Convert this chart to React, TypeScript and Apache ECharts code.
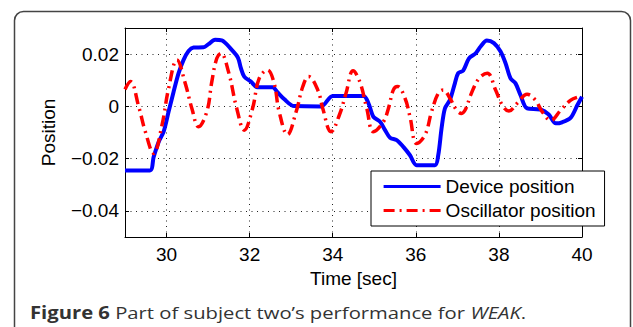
import React, { useEffect, useRef } from "react";
import * as echarts from "echarts";

const xTicks = [30, 32, 34, 36, 38, 40];
const yTicks = [-0.04, -0.02, 0, 0.02];

const deviceTime = [29.0, 29.6, 29.69, 29.81, 29.93, 30.05, 30.17, 30.29, 30.41, 30.53, 30.65, 30.89, 31.01, 31.17, 31.33, 31.57, 31.72, 31.79, 31.87, 32.03, 32.19, 32.55, 32.67, 32.83, 33.07, 33.72, 34.0, 34.74, 34.86, 34.98, 35.14, 35.26, 35.38, 35.54, 35.7, 35.86, 36.02, 36.46, 36.54, 36.62, 36.7, 36.82, 36.94, 37.02, 37.14, 37.28, 37.44, 37.56, 37.71, 37.88, 38.04, 38.16, 38.28, 38.4, 38.52, 38.68, 39.0, 39.2, 39.37, 39.52, 39.73, 39.89, 40.0];
const deviceValue = [-0.0245, -0.0245, -0.0193, -0.0136, -0.0097, -0.002, 0.0056, 0.0127, 0.0178, 0.0212, 0.0225, 0.0226, 0.0238, 0.0255, 0.0253, 0.0216, 0.0186, 0.0146, 0.0114, 0.0095, 0.0073, 0.0073, 0.0054, 0.0028, 0.0001, 0.0, 0.004, 0.004, 0.0012, -0.004, -0.0059, -0.0091, -0.012, -0.0129, -0.0155, -0.0187, -0.0225, -0.0225, -0.0187, -0.0084, -0.0008, 0.0024, 0.0088, 0.0127, 0.0137, 0.0184, 0.0203, 0.0229, 0.0252, 0.0242, 0.021, 0.0165, 0.0107, 0.0088, 0.0043, -0.0008, -0.0012, -0.0031, -0.0065, -0.0061, -0.0043, 0.0005, 0.0037];

const oscTime = [29.0, 29.13, 29.33, 29.49, 29.69, 29.89, 30.05, 30.25, 30.45, 30.61, 30.77, 30.97, 31.09, 31.21, 31.31, 31.49, 31.69, 31.87, 32.07, 32.23, 32.43, 32.59, 32.71, 32.91, 33.12, 33.28, 33.42, 33.64, 33.76, 33.96, 34.16, 34.32, 34.49, 34.65, 34.82, 34.98, 35.22, 35.34, 35.46, 35.56, 35.74, 35.86, 36.02, 36.22, 36.38, 36.54, 36.66, 36.82, 36.98, 37.1, 37.2, 37.32, 37.52, 37.72, 37.92, 38.08, 38.24, 38.44, 38.68, 38.88, 39.04, 39.25, 39.49, 39.73, 39.93, 40.0];
const oscValue = [0.0065, 0.0095, -0.0001, -0.0097, -0.018, -0.0072, 0.0069, 0.0178, 0.0088, -0.0008, -0.0078, -0.002, 0.0095, 0.0184, 0.0203, 0.0133, -0.0008, -0.0091, -0.0008, 0.0107, 0.0139, 0.0088, -0.002, -0.0108, -0.002, 0.0076, 0.0114, 0.0063, -0.0008, -0.0097, -0.0033, 0.005, 0.0136, 0.0095, -0.0008, -0.0097, -0.0059, -0.0008, 0.0063, 0.0076, 0.0031, -0.004, -0.0142, -0.011, -0.002, 0.005, 0.0063, 0.0031, -0.0014, -0.0027, -0.001, 0.0043, 0.0107, 0.0127, 0.0063, 0.0005, -0.0018, 0.0012, 0.0046, 0.0024, -0.002, -0.0053, -0.0014, 0.0024, 0.0037, 0.004];

const FONT = "'Liberation Sans', Arial, sans-serif";
const CAP_FONT = "'Open Sans', 'Noto Sans', sans-serif";

function fmtY(v: number): string {
  const r = Math.round(v * 100) / 100;
  if (r === 0) return "0";
  const s = Math.abs(r).toFixed(2);
  return r < 0 ? "\u2212" + s : s;
}

export default function App() {
  const ref = useRef<HTMLDivElement>(null);
  useEffect(() => {
    if (!ref.current) return;
    const chart = echarts.init(ref.current, null, { renderer: "svg" });
    const grid = { left: 125, right: 51, top: 28, bottom: 90 };
    const gridLine = { show: true, lineStyle: { color: "#222", type: [1, 4.5], width: 1 } };
    const tickStyle = { show: true, inside: true, length: 4, lineStyle: { color: "#000", width: 1 } };
    chart.setOption({
      animation: false,
      backgroundColor: "#fff",
      textStyle: { fontFamily: FONT },
      grid,
      legend: {
        orient: "vertical",
        left: 371,
        top: 171,
        backgroundColor: "#fff",
        borderColor: "#000",
        borderWidth: 1,
        padding: [6, 9, 6, 11],
        itemWidth: 57,
        itemHeight: 20,
        itemGap: 5,
        itemStyle: { opacity: 0 },
        lineStyle: { width: 3.2 },
        textStyle: { fontSize: 19, color: "#000", fontFamily: FONT },
        data: ["Device position", "Oscillator position"],
      },
      xAxis: [
        {
          type: "value",
          min: 29,
          max: 40,
          name: "Time [sec]",
          nameLocation: "middle",
          nameGap: 30,
          nameTextStyle: { fontSize: 19, color: "#000", fontFamily: FONT },
          axisLine: { show: true, onZero: false, lineStyle: { color: "#000", width: 1 } },
          axisTick: { ...tickStyle, customValues: xTicks },
          axisLabel: { customValues: xTicks, fontSize: 19, color: "#000", margin: 8, fontFamily: FONT },
          splitLine: gridLine,
        },
        {
          type: "value",
          position: "top",
          min: 29,
          max: 40,
          axisLine: { show: true, onZero: false, lineStyle: { color: "#000", width: 1 } },
          axisTick: { ...tickStyle, customValues: xTicks },
          axisLabel: { show: false },
          splitLine: { show: false },
        },
      ],
      yAxis: [
        {
          type: "value",
          min: -0.05,
          max: 0.03,
          name: "Position",
          nameLocation: "middle",
          nameGap: 67,
          nameTextStyle: { fontSize: 19, color: "#000", fontFamily: FONT },
          axisLine: { show: true, onZero: false, lineStyle: { color: "#000", width: 1 } },
          axisTick: { ...tickStyle, customValues: yTicks },
          axisLabel: { customValues: yTicks, fontSize: 19, color: "#000", margin: 6, fontFamily: FONT, formatter: fmtY },
          splitLine: gridLine,
        },
        {
          type: "value",
          position: "right",
          min: -0.05,
          max: 0.03,
          axisLine: { show: true, onZero: false, lineStyle: { color: "#000", width: 1 } },
          axisTick: { ...tickStyle, customValues: yTicks },
          axisLabel: { show: false },
          splitLine: { show: false },
        },
      ],
      series: [
        {
          name: "Device position",
          type: "line",
          symbol: "none",
          smooth: 0.3,
          lineStyle: { color: "#0000ff", width: 4 },
          itemStyle: { color: "#0000ff" },
          data: deviceTime.map((t, i) => [t, deviceValue[i]]),
        },
        {
          name: "Oscillator position",
          type: "line",
          symbol: "none",
          smooth: 0.4,
          lineStyle: { color: "#ff0000", width: 3.5, type: [11, 5, 2, 5] },
          itemStyle: { color: "#ff0000" },
          data: oscTime.map((t, i) => [t, oscValue[i]]),
        },
      ],
      graphic: [
        {
          type: "rect",
          shape: { x: 14.5, y: 11.5, width: 616, height: 340, r: 9 },
          style: { fill: "none", stroke: "#444", lineWidth: 1.5 },
          silent: true,
        },
        {
          type: "text",
          x: 30,
          y: 312,
          scaleX: 1.19,
          style: {
            text: "{b|Figure 6} Part of subject two\u2019s performance for {i|WEAK}.",
            fontFamily: CAP_FONT,
            fontSize: 17,
            fill: "#333",
            verticalAlign: "middle",
            rich: {
              b: { fontWeight: "bold", fontSize: 17, fill: "#333", fontFamily: CAP_FONT },
              i: { fontStyle: "italic", fontSize: 17, fill: "#333", fontFamily: CAP_FONT },
            },
          },
        },
      ],
    });
    return () => chart.dispose();
  }, []);
  return (
    <div
      ref={ref}
      style={{ position: "fixed", left: 0, top: 0, width: 633, height: 327, background: "#fff" }}
    />
  );
}
